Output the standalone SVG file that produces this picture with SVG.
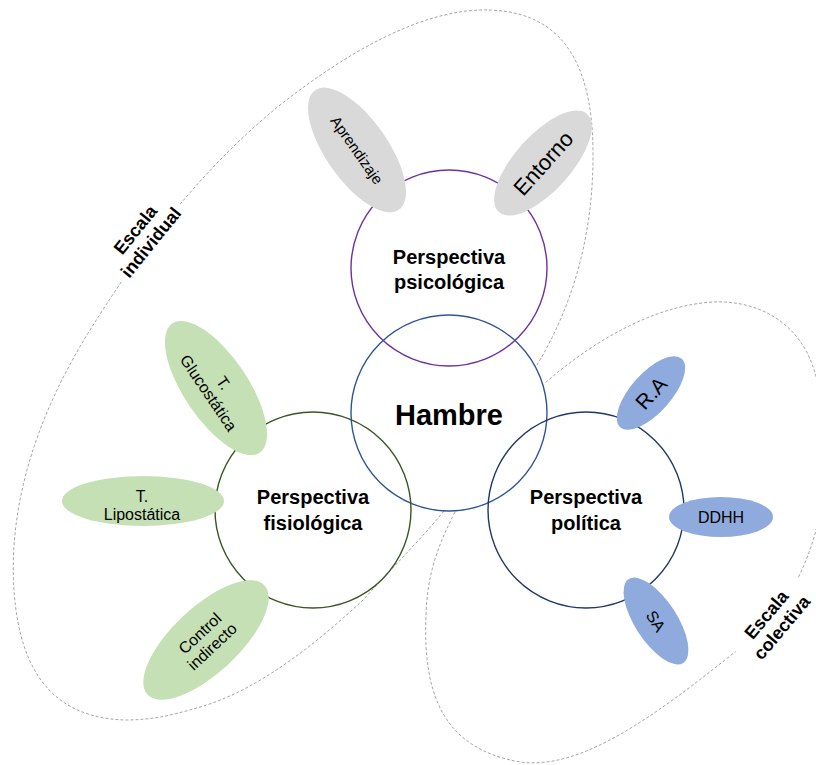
<svg xmlns="http://www.w3.org/2000/svg" width="816" height="765" viewBox="0 0 816 765">
<style>
text{font-family:"Liberation Sans",Arial,sans-serif;fill:#000;text-anchor:middle}
.b{font-weight:bold}
.dash{fill:none;stroke:#A6A6A6;stroke-width:1;stroke-dasharray:3 2}
.circ{fill:none;stroke-width:1.4}
.gray{fill:#D9D9D9}.green{fill:#C5E0B4}.blue{fill:#8FAADC}
</style>
<rect width="816" height="765" fill="#fff"/>
<g id="connectors">
<path class="dash" d="M 444 511 C 420 540, 395 565, 363 600 C 320 640, 260 690, 200 707 C 170 716, 150 720, 125 720 C 60 718, 20 680, 14 590 C 8 500, 40 410, 90 330 C 140 250, 200 170, 280 105 C 350 50, 420 12, 480 10 C 560 8, 592 60, 593 150 C 594 240, 570 310, 537 365"/>
<path class="dash" d="M 455 512 C 438 545, 427 575, 426 615 C 423 690, 440 748, 520 762 C 580 770, 650 720, 735 652 C 815 600, 845 470, 815 373 C 800 320, 755 300, 713 302 C 660 305, 600 335, 545 383"/>
</g>
<g id="escala-individual" transform="translate(143,236) rotate(-51)">
<rect x="-48" y="-25" width="96" height="50" fill="#fff"/>
<text class="b" font-size="18" y="-3.7">Escala</text>
<text class="b" font-size="18" y="16.3">individual</text>
</g>
<g id="escala-colectiva" transform="translate(774,621) rotate(-50)">
<rect x="-48" y="-25" width="96" height="50" fill="#fff"/>
<text class="b" font-size="18" y="-3.7">Escala</text>
<text class="b" font-size="18" y="16.3">colectiva</text>
</g>
<g id="psicologica">
<circle class="circ" cx="449" cy="268" r="98" stroke="#7030A0"/>
<text class="b" font-size="20" x="449" y="264">Perspectiva</text>
<text class="b" font-size="20" x="449" y="289">psicológica</text>
</g>
<g id="hambre">
<circle class="circ" cx="449" cy="413" r="98" stroke="#2F5597"/>
<text class="b" font-size="29" x="449" y="425">Hambre</text>
</g>
<g id="fisiologica">
<circle class="circ" cx="313" cy="510" r="98" stroke="#385723"/>
<text class="b" font-size="20" x="313" y="504">Perspectiva</text>
<text class="b" font-size="20" x="313" y="530">fisiológica</text>
</g>
<g id="politica">
<circle class="circ" cx="586" cy="510" r="98" stroke="#1F3864"/>
<text class="b" font-size="20" x="586" y="504">Perspectiva</text>
<text class="b" font-size="20" x="586" y="530">política</text>
</g>
<g id="aprendizaje" transform="translate(357,150) rotate(55)">
<ellipse class="gray" rx="73" ry="31"/>
<text font-size="15" y="5.5">Aprendizaje</text>
</g>
<g id="entorno" transform="translate(543,163) rotate(-48)">
<ellipse class="gray" rx="66" ry="28"/>
<text font-size="22" y="8">Entorno</text>
</g>
<g id="glucostatica" transform="translate(216,388) rotate(56)">
<ellipse class="green" rx="78" ry="32"/>
<text font-size="16" y="-3.5">T.</text>
<text font-size="16" y="14.5">Glucostática</text>
</g>
<g id="lipostatica">
<ellipse class="green" cx="143" cy="501" rx="81" ry="25"/>
<text font-size="16" x="142" y="502">T.</text>
<text font-size="16" x="142" y="520">Lipostática</text>
</g>
<g id="control" transform="translate(206,640) rotate(-43)">
<ellipse class="green" rx="80" ry="33"/>
<text font-size="16" y="-3.5">Control</text>
<text font-size="16" y="14.5">indirecto</text>
</g>
<g id="ra" transform="translate(651,393) rotate(-48)">
<ellipse class="blue" rx="46" ry="20"/>
<text font-size="21" y="7.5">R.A</text>
</g>
<g id="ddhh">
<ellipse class="blue" cx="721" cy="517" rx="52" ry="20"/>
<text font-size="16" x="721" y="523">DDHH</text>
</g>
<g id="sa" transform="translate(656,621) rotate(57)">
<ellipse class="blue" rx="50" ry="21"/>
<text font-size="16" y="6">SA</text>
</g>
</svg>
